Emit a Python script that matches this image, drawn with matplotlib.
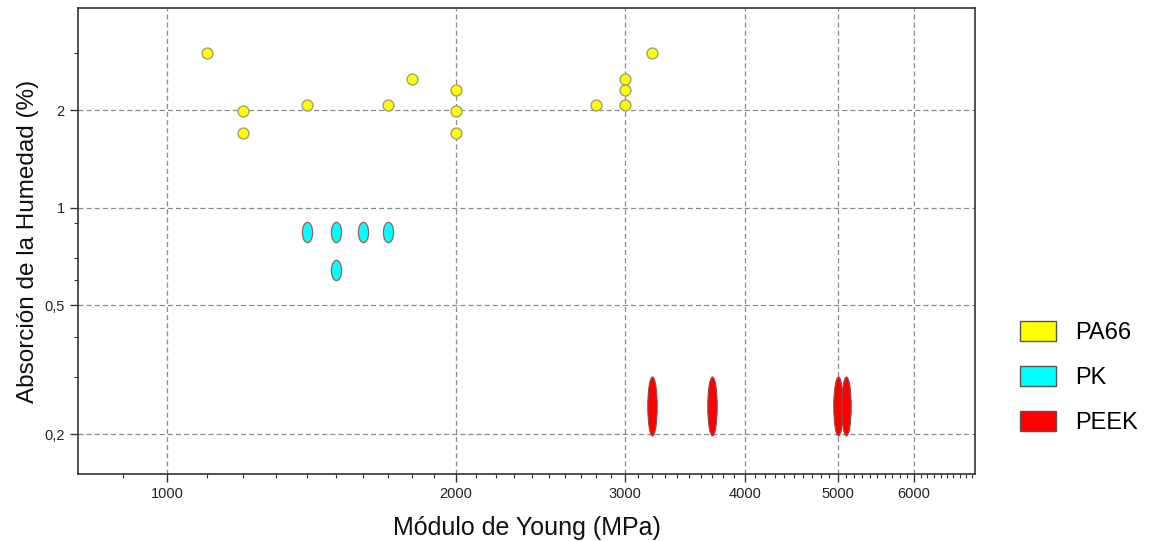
import numpy as np
import matplotlib
matplotlib.use("Agg")
import matplotlib.pyplot as plt
from matplotlib.path import Path
from matplotlib.transforms import Affine2D
from matplotlib.patches import Patch
from matplotlib.ticker import FixedLocator, NullFormatter

plt.rcParams['font.family'] = ['Liberation Sans', 'DejaVu Sans']

# datos
pa66_E = [1100, 1200, 1200, 1400, 1700, 1800, 2000, 2000, 2000, 2800, 3000, 3000, 3000, 3200]
pa66_H = [3.0, 1.985, 1.7, 2.08, 2.08, 2.5, 2.3, 1.985, 1.7, 2.08, 2.5, 2.3, 2.08, 3.0]

pk_E = [1400, 1500, 1600, 1700, 1500]
pk_H = [0.84, 0.84, 0.84, 0.84, 0.645]

peek_E = [3200, 3700, 5000, 5100]
peek_H = [0.245, 0.245, 0.245, 0.245]

x_ticks = [1000, 2000, 3000, 4000, 5000, 6000]
y_ticks = [0.2, 0.5, 1, 2]
y_labels = ['0,2', '0,5', '1', '2']
y_minor = [0.3, 0.4, 0.6, 0.7, 0.9, 3]

#---------------------------------------------------------------------------------#

def ellipse_marker(w, h):
    return Path.unit_circle().transformed(Affine2D().scale(w, h))

fig = plt.figure(figsize=(11.5, 5.41), dpi=100)
ax = fig.add_axes([78/1150, 1 - 474/541, (975-78)/1150, (474-8)/541])
ax.set_xscale('log')
ax.set_yscale('log')
ax.set_xlim(808, 6950)
ax.set_ylim(0.151, 4.13)

ax.grid(True, which='major', color='#8a8a8a', linestyle=(0, (4, 2.5)), linewidth=0.9)
ax.set_axisbelow(True)

ax.scatter(pa66_E, pa66_H, s=62, marker='o', facecolor='#ffff00', edgecolor='#a0a070', linewidth=1.0, zorder=3)
ax.scatter(pk_E, pk_H, s=215, marker=ellipse_marker(0.5, 1.0), facecolor='#00ffff', edgecolor='#a05a5a', linewidth=0.9, zorder=3)
ax.scatter(peek_E, peek_H, s=1800, marker=ellipse_marker(0.16, 1.0), facecolor='#ff0000', edgecolor='#8a5050', linewidth=0.8, zorder=3)

ax.xaxis.set_major_locator(FixedLocator(x_ticks))
ax.set_xticklabels([str(v) for v in x_ticks])
minor_x = [v for v in range(900, 7000, 100) if v not in x_ticks]
ax.xaxis.set_minor_locator(FixedLocator(minor_x))
ax.xaxis.set_minor_formatter(NullFormatter())

ax.yaxis.set_major_locator(FixedLocator(y_ticks))
ax.set_yticklabels(y_labels)
ax.yaxis.set_minor_locator(FixedLocator(y_minor))
ax.yaxis.set_minor_formatter(NullFormatter())

ax.tick_params(which='major', length=6, width=1, colors='#333333', labelsize=10.5, labelcolor='#222222')
ax.tick_params(which='minor', length=3, width=0.8, colors='#333333')
for sp in ax.spines.values():
    sp.set_color('#333333')
    sp.set_linewidth(1.2)

ax.set_xlabel('Módulo de Young (MPa)', fontsize=18, color='#111111', labelpad=11)
ax.set_ylabel('Absorción de la Humedad (%)', fontsize=17.5, color='#111111', labelpad=4)

handles = [Patch(facecolor='#ffff00', edgecolor='#555555', label='PA66'),
           Patch(facecolor='#00ffff', edgecolor='#555555', label='PK'),
           Patch(facecolor='#ff0000', edgecolor='#555555', label='PEEK')]
fig.legend(handles=handles, loc='upper left', bbox_to_anchor=(1020/1150, 1 - 321/541),
           frameon=False, fontsize=17, borderpad=0, borderaxespad=0,
           handlelength=1.52, handleheight=0.94, handletextpad=0.8, labelspacing=0.92)

fig.savefig('out.png', dpi=100)
